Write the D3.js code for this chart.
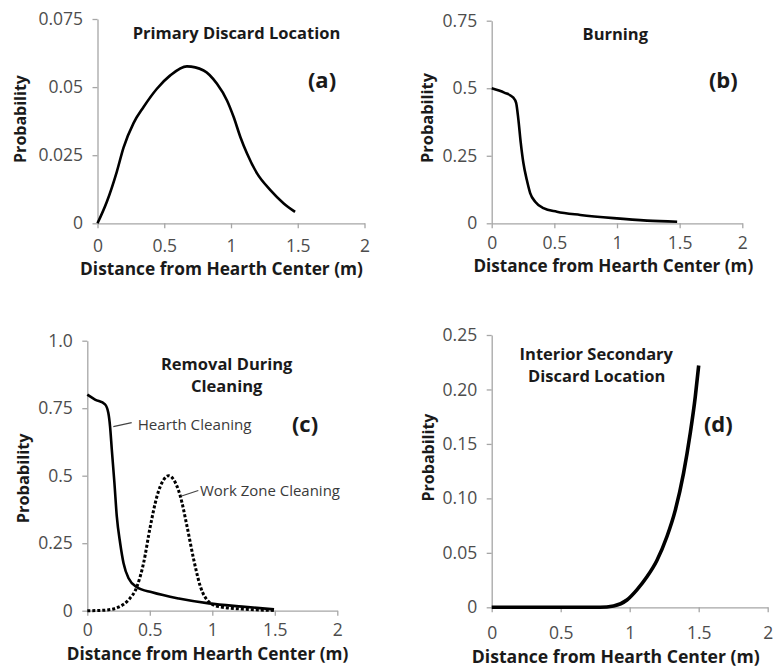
<!DOCTYPE html>
<html><head><meta charset="utf-8">
<script src="https://cdn.jsdelivr.net/npm/d3@7"></script>
<style>body{margin:0;background:#fff}svg{display:block}</style>
</head><body>
<svg id="c" width="781" height="667"></svg>
<script>
// ---------- DATA ----------
const xTickLabels = ["0","0.5","1","1.5","2"];
const xTickValues = [0,0.5,1,1.5,2];

const yTicksA = [0,0.025,0.05,0.075];
const yTickLabelsA = ["0","0.025","0.05","0.075"];
const yTicksB = [0,0.25,0.5,0.75];
const yTickLabelsB = ["0","0.25","0.5","0.75"];
const yTicksC = [0,0.25,0.5,0.75,1.0];
const yTickLabelsC = ["0","0.25","0.5","0.75","1.0"];
const yTicksD = [0,0.05,0.10,0.15,0.20,0.25];
const yTickLabelsD = ["0","0.05","0.10","0.15","0.20","0.25"];

// (a) Primary Discard Location
const xA = [0,0.07,0.145,0.195,0.27,0.345,0.445,0.545,0.67,0.795,0.895,0.97,1.02,1.07,1.12,1.195,1.295,1.395,1.48];
const yA = [0,0.0079,0.019,0.0278,0.0368,0.0427,0.0494,0.0543,0.0576,0.0561,0.0512,0.0451,0.039,0.0317,0.0256,0.0183,0.0122,0.0073,0.0042];
// (b) Burning
const xB = [0,0.1,0.173,0.195,0.213,0.232,0.253,0.28,0.307,0.347,0.413,0.52,0.707,0.973,1.24,1.48];
const yB = [0.5,0.484,0.465,0.446,0.384,0.298,0.223,0.161,0.112,0.080,0.056,0.043,0.031,0.019,0.010,0.006];
// (c) Removal During Cleaning
const xHearth = [0,0.062,0.142,0.168,0.182,0.196,0.217,0.236,0.263,0.29,0.33,0.397,0.518,0.732,0.973,1.24,1.494];
const yHearth = [0.8,0.782,0.764,0.733,0.683,0.597,0.473,0.349,0.25,0.176,0.12,0.087,0.068,0.045,0.027,0.015,0.005];
const xWork = [0,0.1,0.196,0.249,0.33,0.397,0.45,0.504,0.557,0.611,0.651,0.691,0.745,0.798,0.852,0.905,0.972,1.05,1.24,1.494];
const yWork = [0,0.001,0.005,0.013,0.04,0.089,0.176,0.312,0.423,0.485,0.5,0.485,0.423,0.312,0.188,0.089,0.033,0.015,0.006,0.001];
// (d) Interior Secondary Discard Location
const xD = [0,0.786,0.883,0.98,1.052,1.125,1.197,1.27,1.33,1.39,1.439,1.475,1.5];
const yD = [0,0,0.0012,0.0067,0.016,0.028,0.043,0.065,0.089,0.123,0.160,0.193,0.222];

const seriesNames = ["Hearth Cleaning","Work Zone Cleaning"];
const xTitle = "Distance from Hearth Center (m)";
const yTitle = "Probability";

// ---------- DRAW ----------
const svg = d3.select("#c");
svg.append("rect").attr("width",781).attr("height",667).attr("fill","#fff");

const AXIS = "#a6a6a6", TICKTXT = "#4d4d4d", INK = "#1a1a1a";
const TF = "'Open Sans', sans-serif";

function fitText(sel, target){
  const n = sel.node();
  const base = parseFloat(sel.attr("font-size"));
  const w = n.getComputedTextLength();
  if (w > 0) sel.attr("font-size", (base*target/w).toFixed(2));
  return sel;
}
function label(g, txt, x, y, w, opts={}){
  const t = g.append("text").attr("x",x).attr("y",y)
    .attr("text-anchor",opts.anchor||"middle")
    .attr("font-family",TF).attr("font-weight",opts.weight||700)
    .attr("font-size",opts.size||16).attr("fill",opts.color||INK)
    .text(txt);
  if (opts.rotate) t.attr("transform",`rotate(-90,${x},${y})`);
  if (w) fitText(t,w);
  return t;
}

function panel(cfg){
  const g = svg.append("g");
  const x = d3.scaleLinear().domain([0,2]).range([cfg.x0,cfg.x1]);
  const y = d3.scaleLinear().domain([0,cfg.ymax]).range([cfg.y0,cfg.y1]);
  const xa = g.append("g").attr("transform",`translate(0,${cfg.y0})`)
    .call(d3.axisBottom(x).tickValues(xTickValues).tickFormat((d,i)=>xTickLabels[i]).tickSizeInner(5).tickSizeOuter(0).tickPadding(cfg.xpad));
  const ya = g.append("g").attr("transform",`translate(${cfg.x0},0)`)
    .call(d3.axisLeft(y).tickValues(cfg.yticks).tickFormat((d,i)=>cfg.ylabels[i]).tickSizeInner(5).tickSizeOuter(0).tickPadding(cfg.ypad));
  [xa,ya].forEach(a=>{
    a.selectAll("path,line").attr("stroke",AXIS).attr("stroke-width",1.3);
    a.selectAll("text").attr("font-family",TF).attr("font-size",17.5).attr("fill",TICKTXT);
  });
  const line = d3.line().x(d=>x(d[0])).y(d=>y(d[1])).curve(d3.curveMonotoneX);
  cfg.series.forEach(s=>{
    g.append("path").datum(d3.zip(s.xs,s.ys)).attr("d",line)
      .attr("fill","none").attr("stroke","#000").attr("stroke-width",s.w||2.6)
      .attr("stroke-dasharray",s.dash||null).attr("stroke-linejoin","round");
  });
  label(g, xTitle, cfg.xt[0], cfg.xt[1], cfg.xt[2]);
  label(g, yTitle, cfg.yt[0], cfg.yt[1], cfg.yt[2], {rotate:true});
  cfg.titles.forEach(t=>label(g, t[0], t[1], t[2], null, {size:16.5}));
  label(g, cfg.tag[0], cfg.tag[1], cfg.tag[2], null, {size:22});
  return {g,x,y};
}

panel({x0:97.5,x1:364.5,y0:223.3,y1:19,ymax:0.075,yticks:yTicksA,ylabels:yTickLabelsA,xpad:11,ypad:9.5,
  series:[{xs:xA,ys:yA}],
  xt:[221.5,275,283], yt:[26,119,88],
  titles:[["Primary Discard Location",236.5,39]], tag:["(a)",322,88]});

panel({x0:491.7,x1:742.3,y0:223.3,y1:20.7,ymax:0.75,yticks:yTicksB,ylabels:yTickLabelsB,xpad:8.5,ypad:9.5,
  series:[{xs:xB,ys:yB}],
  xt:[613.3,271.7,280], yt:[432.5,118,90],
  titles:[["Burning",615.3,40]], tag:["(b)",723.3,88]});

const pc = panel({x0:87.3,x1:337.3,y0:610.7,y1:340.7,ymax:1.0,yticks:yTicksC,ylabels:yTickLabelsC,xpad:8,ypad:9.5,
  series:[{xs:xWork,ys:yWork,w:3,dash:"3,2"},{xs:xHearth,ys:yHearth}],
  xt:[207.5,660,281.7], yt:[29,478.3,90],
  titles:[["Removal During",226.7,370],["Cleaning",226.7,391.7]], tag:["(c)",305,431.7]});
pc.g.append("line").attr("x1",113.3).attr("y1",426.7).attr("x2",131.7).attr("y2",422.7).attr("stroke","#444").attr("stroke-width",1.2);
label(pc.g, seriesNames[0], 137.7, 430, 114, {anchor:"start",weight:400,color:"#3a3a3a"});
pc.g.append("line").attr("x1",181.7).attr("y1",496).attr("x2",198.3).attr("y2",490.5).attr("stroke","#444").attr("stroke-width",1.2);
label(pc.g, seriesNames[1], 200, 496, 140, {anchor:"start",weight:400,color:"#3a3a3a"});

panel({x0:491.7,x1:767.7,y0:607.3,y1:335,ymax:0.25,yticks:yTicksD,ylabels:yTickLabelsD,xpad:14,ypad:9.5,
  series:[{xs:xD,ys:yD,w:3.6}],
  xt:[615.8,663.3,288], yt:[434.3,457.5,88],
  titles:[["Interior Secondary",596.3,360],["Discard Location",596.7,381.7]], tag:["(d)",718.3,431.7]});
</script>
</body></html>
